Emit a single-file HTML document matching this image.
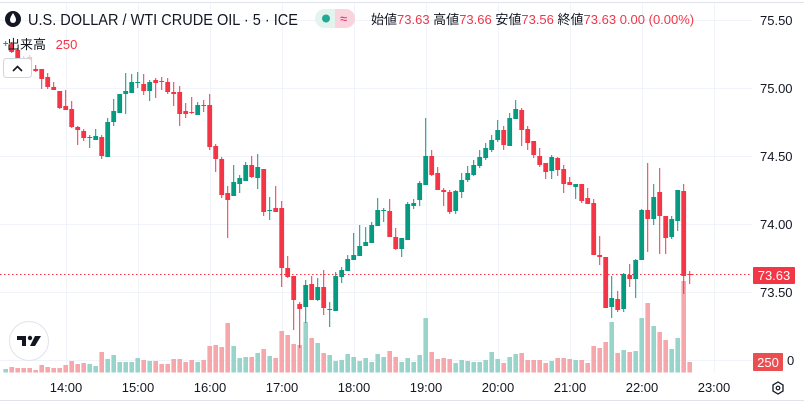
<!DOCTYPE html>
<html><head><meta charset="utf-8"><style>
html,body{margin:0;padding:0;background:#fff;width:804px;height:402px;overflow:hidden}
svg{display:block;font-family:"Liberation Sans","Noto Sans CJK JP",sans-serif}
</style></head><body>
<svg id="s" width="804" height="402" viewBox="0 0 804 402" xmlns="http://www.w3.org/2000/svg">
<rect width="804" height="402" fill="#fff"/>
<line x1="0" y1="2.5" x2="804" y2="2.5" stroke="#e0e3eb"/>
<line x1="0" y1="400.5" x2="804" y2="400.5" stroke="#e0e3eb"/>
<g id="grid" stroke="#f0f3fa" stroke-width="1"></g>
<g id="vol"></g>
<line x1="0" y1="274.5" x2="752" y2="274.5" stroke="#f23645" stroke-width="1" stroke-dasharray="1.5,2.5"/>
<g id="cdl"></g>
<!-- header -->
<circle cx="13" cy="19" r="8" fill="#131722"/>
<path d="M13 13 C11 16 10 18 10 20 A3 3 0 0 0 16 20 C16 18 15 16 13 13Z" fill="#fff"/>
<text x="28" y="25" font-size="16" fill="#131722" textLength="270" lengthAdjust="spacingAndGlyphs">U.S. DOLLAR / WTI CRUDE OIL · 5 · ICE</text>
<rect x="315" y="9" width="40" height="19" rx="9.5" fill="#e3f3ee"/>
<path d="M335 9 h10.5 a9.5 9.5 0 0 1 0 19 h-10.5z" fill="#f9d3de"/>
<circle cx="326" cy="18.5" r="4" fill="#22ab94"/>
<text x="340" y="23" font-size="13" fill="#e91e63">≈</text>
<text x="371" y="24" font-size="13" fill="#131722">始値<tspan fill="#f23645">73.63</tspan> 高値<tspan fill="#f23645">73.66</tspan> 安値<tspan fill="#f23645">73.56</tspan> 終値<tspan fill="#f23645">73.63</tspan> <tspan fill="#f23645">0.00 (0.00%)</tspan></text>
<text x="7" y="49" font-size="13" fill="#131722">出来高 <tspan dx="6" fill="#f23645">250</tspan></text>
<rect x="3.5" y="58.5" width="28" height="19" rx="3" fill="#fff" stroke="#d1d4dc"/>
<path d="M13 71 L17.5 66.5 L22 71" fill="none" stroke="#131722" stroke-width="1.6"/>
<!-- logo -->
<circle cx="29" cy="341" r="19.5" fill="#fff" stroke="#e0e3eb"/>
<path d="M17 336 h9 v10 h-4 v-6 h-5z" fill="#131722"/>
<circle cx="30" cy="338" r="2.2" fill="#131722"/>
<path d="M35 336 h6 l-6 10 h-5z" fill="#131722"/>
<!-- price axis -->
<g font-size="13" fill="#131722">
<text x="760" y="25">75.50</text>
<text x="760" y="93">75.00</text>
<text x="760" y="161">74.50</text>
<text x="760" y="229">74.00</text>
<text x="760" y="297">73.50</text>
<text x="787" y="365">0</text>
</g>
<rect x="753" y="267" width="42" height="17" rx="1" fill="#f23645"/>
<text x="774" y="280" font-size="13" fill="#fff" text-anchor="middle">73.63</text>
<rect x="753" y="353" width="30" height="18" rx="1" fill="#eb4d50"/>
<text x="768" y="367" font-size="13" fill="#fff" text-anchor="middle">250</text>
<!-- time axis -->
<g font-size="13" fill="#131722" text-anchor="middle">
<text x="66" y="392">14:00</text><text x="138" y="392">15:00</text><text x="210" y="392">16:00</text>
<text x="282" y="392">17:00</text><text x="354" y="392">18:00</text><text x="426" y="392">19:00</text>
<text x="498" y="392">20:00</text><text x="570" y="392">21:00</text><text x="642" y="392">22:00</text>
<text x="714" y="392">23:00</text>
</g>
<path d="M778 382 l5 3 v6 l-5 3 l-5 -3 v-6z" fill="none" stroke="#131722" stroke-width="1.3"/>
<circle cx="778" cy="388" r="1.8" fill="none" stroke="#131722" stroke-width="1.2"/>
</svg>
<script>
var NS="http://www.w3.org/2000/svg";
function el(p,t,a){var e=document.createElementNS(NS,t);for(var k in a)e.setAttribute(k,a[k]);p.appendChild(e);return e;}
var g=document.getElementById('grid');
[20,88,156,224,292,360].forEach(function(y){el(g,'line',{x1:0,y1:y+.5,x2:752,y2:y+.5});});
for(var n=0;n<10;n++){var x=Math.round(65.7+72*n)+.5;el(g,'line',{x1:x,y1:3,x2:x,y2:372});}
var D=[
[44,43,41,46,'g'],[44,52,42,53],[50,58,48,60],[58,63,56,66],[57,67,55,69],
[69,71,65,72],[69,79,69,89],[77,87,73,89],[87,90,82,90],[91,108,91,109],
[106,110,90,110],[109,127,101,128],[127,130,126,145],[131,138,129,141],[137,137,135,148,'g'],
[140,136,129,140],[137,156,135,159],[157,122,118,157],[122,111,99,126],[113,94,94,113],
[94,91,73,114],[93,82,74,93],[82,82,72,88,'g'],[84,91,74,95],[91,82,80,101],
[80,83,78,98],[81,81,77,90,'r'],[82,92,78,94],[92,94,82,106],[92,114,86,126],
[111,114,103,118],[112,112,97,114,'r'],[115,105,102,115],[105,105,100,112,'r'],[105,147,94,150],
[146,159,144,172],[159,195,157,198],[193,200,186,238],[196,182,165,196],[184,178,175,193],
[181,165,162,181],[165,177,156,178],[178,167,154,189],[169,212,169,216],[210,210,197,220,'g'],
[208,212,186,212],[208,268,201,287],[268,277,256,278],[276,300,276,330],[304,309,302,348],
[307,285,280,323],[284,300,276,300],[300,287,278,301],[287,308,270,315],[309,309,302,327,'g'],
[311,276,272,311],[277,270,267,283],[271,259,255,271],[260,255,233,260],[256,246,225,256],
[246,242,227,246],[243,225,222,243],[226,210,198,226],[210,210,208,222,'g'],[211,237,199,237],
[237,249,228,250],[249,238,238,257],[240,204,202,240],[206,203,199,209],[200,183,181,206],
[185,156,118,185],[156,175,150,176],[173,190,167,190],[190,192,188,206],[192,212,190,214],
[211,191,190,214],[192,180,173,198],[180,173,166,182],[175,165,160,176],[166,157,150,168],
[158,148,143,160],[150,140,135,152],[140,130,120,142],[130,145,126,150],[146,118,113,146],
[119,109,100,119],[110,130,108,146],[129,143,126,150],[141,155,141,158],[156,165,148,167],
[163,172,163,179],[171,157,155,179],[158,170,157,176],[169,184,165,193],[182,185,177,185],
[187,184,184,199],[184,201,184,203],[198,204,188,204],[203,255,199,255],[255,257,236,265],
[257,308,257,308],[307,298,276,318],[299,310,291,312],[309,274,273,312],[275,279,264,287],
[279,260,259,298],[260,210,209,260],[210,219,163,252],[219,197,184,225],[192,216,168,254],
[216,238,216,254],[237,219,216,239],[221,190,190,231],[191,276,184,294],[274,274,271,284,'r']
];
var V=[369,367,368,368,368,370,365,367,368,368,
365,361,364,363,364,366,352,359,355,362,
362,362,358,360,361,361,364,364,359,359,
362,360,362,360,346,345,347,323,346,358,
357,357,353,349,356,358,331,335,344,345,
322,338,343,353,355,361,
360,354,357,361,358,362,354,357,351,357,
362,358,362,355,318,352,359,358,359,363,
360,361,362,362,360,352,359,363,357,354,
353,360,360,360,363,361,358,358,359,360,
360,363,346,348,342,322,353,350,352,351,
318,303,326,332,340,349,338,281,362];
var vg=document.getElementById('vol'),cg=document.getElementById('cdl');
for(var i=0;i<D.length;i++){
 var k=i-10,cx=65.7+6*k,d=D[i];
 var up=d[4]?d[4]=='g':(d[1]<d[0]);
 var col=up?'#089981':'#f23645';
 var vt=V[i]; if(vt!==undefined) el(vg,'rect',{x:cx-2.3,y:vt,width:4.6,height:372.5-vt,fill:up?'#98d4ca':'#f5a7ab'});
 var op=(k==-7||k==-6)?0.3:1;
 var gg=el(cg,'g',{opacity:op});
 el(gg,'rect',{x:cx-0.5,y:d[2],width:1,height:Math.max(1,d[3]-d[2]),fill:col});
 var t=Math.min(d[0],d[1]),h=Math.max(1,Math.abs(d[1]-d[0]));
 el(gg,'rect',{x:cx-2.4,y:t,width:4.8,height:h,fill:col});
}
</script>
</body></html>
